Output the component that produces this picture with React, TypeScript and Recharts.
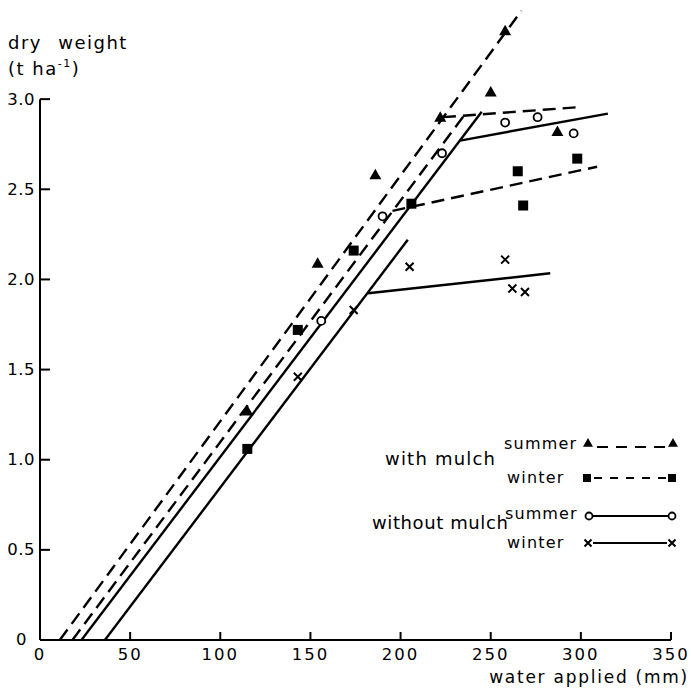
import { ComposedChart, Line, Scatter, XAxis, YAxis, ReferenceLine, Customized } from "recharts";

const FONT = "'DejaVu Sans', sans-serif";
const INK = "#000";

// axes
const xTicks = [0, 50, 100, 150, 200, 250, 300, 350];
const yTicks = [0, 0.5, 1.0, 1.5, 2.0, 2.5, 3.0];

// measured points (water applied mm, dry weight t/ha)
const summerMulchPts = [
  { x: 115, y: 1.27 },
  { x: 154, y: 2.09 },
  { x: 186, y: 2.58 },
  { x: 222, y: 2.9 },
  { x: 250, y: 3.04 },
  { x: 258, y: 3.38 },
  { x: 287, y: 2.82 },
];
const winterMulchPts = [
  { x: 115, y: 1.06 },
  { x: 143, y: 1.72 },
  { x: 174, y: 2.16 },
  { x: 206, y: 2.42 },
  { x: 265, y: 2.6 },
  { x: 268, y: 2.41 },
  { x: 298, y: 2.67 },
];
const summerBarePts = [
  { x: 156, y: 1.77 },
  { x: 190, y: 2.35 },
  { x: 223, y: 2.7 },
  { x: 258, y: 2.87 },
  { x: 276, y: 2.9 },
  { x: 296, y: 2.81 },
];
const winterBarePts = [
  { x: 143, y: 1.46 },
  { x: 174, y: 1.83 },
  { x: 205, y: 2.07 },
  { x: 258, y: 2.11 },
  { x: 262, y: 1.95 },
  { x: 269, y: 1.93 },
];

// fitted broken-stick lines
const mulchRiseA = [{ x: 11, y: 0 }, { x: 267, y: 3.49 }];
const mulchRiseB = [{ x: 18, y: 0 }, { x: 236, y: 2.92 }];
const mulchPlateauA = [{ x: 223.5, y: 2.9 }, { x: 298, y: 2.955 }];
const mulchPlateauB = [{ x: 195.5, y: 2.38 }, { x: 309, y: 2.625 }];
const bareRiseA = [{ x: 23, y: 0 }, { x: 245, y: 2.93 }];
const barePlateauA = [{ x: 233, y: 2.77 }, { x: 315, y: 2.92 }];
const bareRiseB = [{ x: 36, y: 0 }, { x: 204, y: 2.22 }];
const barePlateauB = [{ x: 182, y: 1.923 }, { x: 283, y: 2.034 }];

const dashed = [mulchRiseA, mulchRiseB, mulchPlateauA, mulchPlateauB];
const solid = [bareRiseA, barePlateauA, bareRiseB, barePlateauB];

const Tri = ({ cx, cy, s = 6 }: any) => (
  <path d={`M${cx},${cy - s} L${cx + s},${cy + s * 0.75} L${cx - s},${cy + s * 0.75} Z`} fill={INK} />
);
const Sq = ({ cx, cy, s = 5 }: any) => <rect x={cx - s} y={cy - s} width={s * 2} height={s * 2} fill={INK} />;
const Ring = ({ cx, cy, r = 4 }: any) => <circle cx={cx} cy={cy} r={r} fill="#fff" stroke={INK} strokeWidth={1.8} />;
const Ex = ({ cx, cy, s = 4 }: any) => (
  <path d={`M${cx - s},${cy - s} L${cx + s},${cy + s} M${cx + s},${cy - s} L${cx - s},${cy + s}`} stroke={INK} strokeWidth={2} />
);

function XTick({ x, y, payload }: any) {
  const v = payload.value;
  return (
    <g>
      {v !== 0 && <line x1={x} y1={y} x2={x} y2={y - 8} stroke={INK} strokeWidth={2} />}
      <text x={x} y={y + 14} textAnchor="middle" dominantBaseline="central" fontSize={16.5} letterSpacing={2} fontFamily={FONT} fill={INK}>
        {v}
      </text>
    </g>
  );
}

function YTick({ x, y, payload }: any) {
  const v = payload.value;
  return (
    <g>
      {v !== 0 && <line x1={x} y1={y} x2={x + 10} y2={y} stroke={INK} strokeWidth={2} />}
      <text
        x={v === 0 ? x - 13 : x - 5}
        y={v === 0 ? y - 1 : y}
        textAnchor="end"
        dominantBaseline="central"
        fontSize={16.5}
        letterSpacing={0.5}
        fontFamily={FONT}
        fill={INK}
      >
        {v === 0 ? "0" : v.toFixed(1)}
      </text>
    </g>
  );
}

function Annotations() {
  const t = { fontFamily: FONT, fill: INK } as const;
  return (
    <g>
      <text x={8} y={49} fontSize={18} letterSpacing={1.5} wordSpacing={9} {...t}>dry weight</text>
      <text x={8} y={75} fontSize={18} letterSpacing={1.5} {...t}>
        (t ha<tspan fontSize={11} dy={-8}>-1</tspan><tspan dy={8}>)</tspan>
      </text>
      <text x={689} y={683} textAnchor="end" fontSize={17} letterSpacing={1.75} {...t}>water applied (mm)</text>

      <text x={385} y={458} dominantBaseline="central" fontSize={18} letterSpacing={1.2} {...t}>with mulch</text>
      <text x={504} y={443} dominantBaseline="central" fontSize={16} letterSpacing={1.2} {...t}>summer</text>
      <Tri cx={588} cy={443} s={5} />
      <line x1={597} y1={447} x2={665} y2={447} stroke={INK} strokeWidth={2} strokeDasharray="11 8" />
      <Tri cx={673} cy={443} s={5} />
      <text x={507} y={477} dominantBaseline="central" fontSize={16} letterSpacing={1.2} {...t}>winter</text>
      <Sq cx={587} cy={478} s={4} />
      <line x1={594} y1={478} x2={666} y2={478} stroke={INK} strokeWidth={2} strokeDasharray="8 8" />
      <Sq cx={672} cy={478} s={4} />

      <text x={372} y={522} dominantBaseline="central" fontSize={18} letterSpacing={0.6} {...t}>without mulch</text>
      <text x={505} y={513} dominantBaseline="central" fontSize={16} letterSpacing={1.1} {...t}>summer</text>
      <line x1={593} y1={516} x2={668} y2={516} stroke={INK} strokeWidth={2} />
      <Ring cx={589} cy={516} r={3.5} />
      <Ring cx={672} cy={516} r={3.5} />
      <text x={507} y={542} dominantBaseline="central" fontSize={16} letterSpacing={1.2} {...t}>winter</text>
      <line x1={593} y1={543} x2={667} y2={543} stroke={INK} strokeWidth={2} />
      <Ex cx={588} cy={543} s={3.5} />
      <Ex cx={672} cy={543} s={3.5} />
    </g>
  );
}

export default function App() {
  return (
    <div style={{ position: "absolute", left: 0, top: 0, width: 691, height: 688, background: "#fff" }}>
      <ComposedChart width={691} height={688} margin={{ top: 9, right: 20, bottom: 47, left: 39 }}>
        <XAxis
          type="number"
          dataKey="x"
          domain={[0, 350]}
          ticks={xTicks}
          height={1}
          tickSize={0}
          tickMargin={0}
          tickLine={false}
          tick={<XTick />}
          axisLine={{ stroke: INK, strokeWidth: 2 }}
          allowDataOverflow
        />
        <YAxis
          type="number"
          dataKey="y"
          domain={[0, 3.5]}
          ticks={yTicks}
          width={1}
          tickSize={0}
          tickMargin={0}
          tickLine={false}
          tick={<YTick />}
          axisLine={false}
          allowDataOverflow
        />
        <ReferenceLine segment={[{ x: 0, y: 0 }, { x: 0, y: 3 }]} stroke={INK} strokeWidth={2} />

        {dashed.map((seg, i) => (
          <Line
            key={`d${i}`}
            data={seg}
            dataKey="y"
            type="linear"
            stroke={INK}
            strokeWidth={2.4}
            strokeDasharray="13 7"
            dot={false}
            activeDot={false}
            isAnimationActive={false}
          />
        ))}
        {solid.map((seg, i) => (
          <Line
            key={`s${i}`}
            data={seg}
            dataKey="y"
            type="linear"
            stroke={INK}
            strokeWidth={2.4}
            dot={false}
            activeDot={false}
            isAnimationActive={false}
          />
        ))}

        <Scatter data={summerMulchPts} shape={(p: any) => <Tri cx={p.cx} cy={p.cy} />} isAnimationActive={false} />
        <Scatter data={winterMulchPts} shape={(p: any) => <Sq cx={p.cx} cy={p.cy} />} isAnimationActive={false} />
        <Scatter data={summerBarePts} shape={(p: any) => <Ring cx={p.cx} cy={p.cy} />} isAnimationActive={false} />
        <Scatter data={winterBarePts} shape={(p: any) => <Ex cx={p.cx} cy={p.cy} />} isAnimationActive={false} />

        <Customized component={Annotations} />
      </ComposedChart>
    </div>
  );
}
